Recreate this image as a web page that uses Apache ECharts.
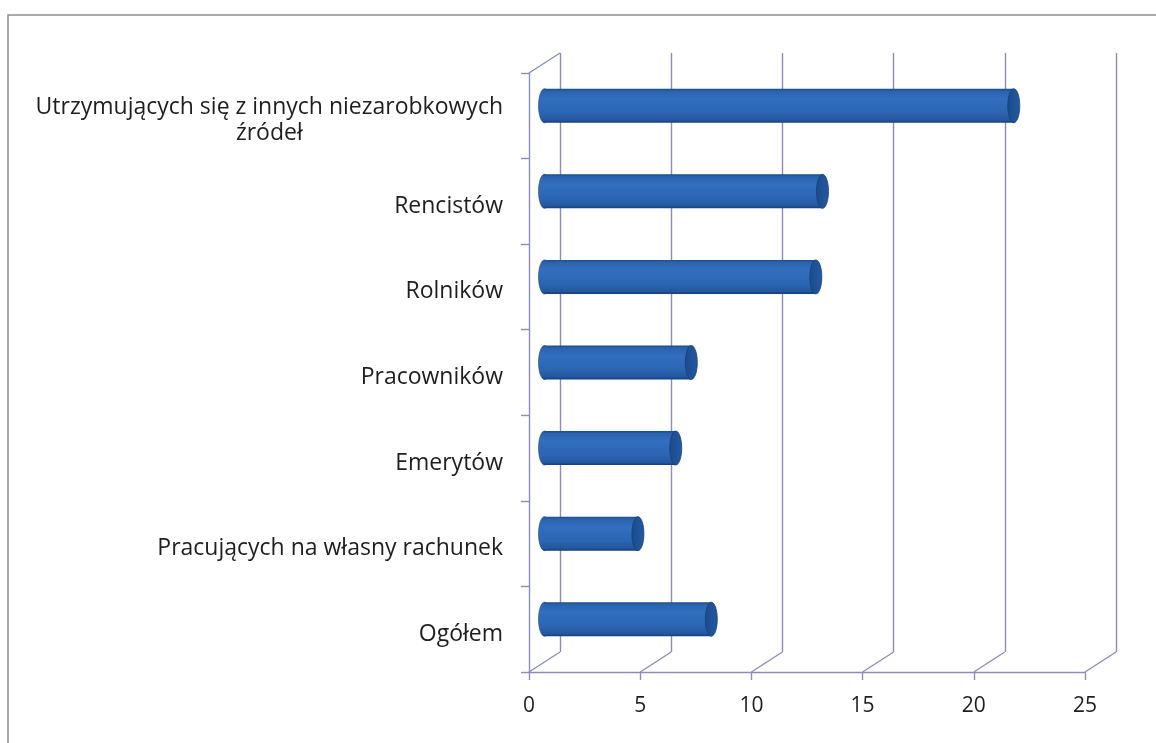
<!DOCTYPE html>
<html><head><meta charset="utf-8">
<script src="https://cdn.jsdelivr.net/npm/echarts@6/dist/echarts.min.js"></script>
<style>html,body{margin:0;padding:0;background:#fff}#c{width:1156px;height:743px}</style>
</head><body><div id="c"></div>
<script>
const categories = ['Utrzymujących się z innych niezarobkowych\nźródeł', 'Rencistów', 'Rolników', 'Pracowników', 'Emerytów', 'Pracujących na własny rachunek', 'Ogółem'];
const values = [21.1, 12.5, 12.2, 6.6, 5.9, 4.2, 7.5];
const xTicks = [0, 5, 10, 15, 20, 25];

const LINE = '#8a8eb6';
const FONT = 'Open Sans';
const DEPTH_X = 31, DEPTH_Y = -20;

const chart = echarts.init(document.getElementById('c'), null, {renderer: 'canvas'});

function bodyGrad() {
  return new echarts.graphic.LinearGradient(0, 0, 0, 1, [
    {offset: 0, color: '#1a4a8c'},
    {offset: 0.07, color: '#2b62ad'},
    {offset: 0.3, color: '#326fbf'},
    {offset: 0.7, color: '#2c65b2'},
    {offset: 0.92, color: '#2358a0'},
    {offset: 1, color: '#163d78'}
  ]);
}
function capGrad() {
  return new echarts.graphic.LinearGradient(0, 0, 1, 0, [
    {offset: 0, color: '#1a4b8c'},
    {offset: 1, color: '#2459a0'}
  ]);
}

function renderBar(params, api) {
  const v = api.value(0), idx = api.value(1);
  const p0 = api.coord([0, idx]);
  const p1 = api.coord([v, idx]);
  const dx = DEPTH_X / 2, dy = DEPTH_Y / 2;
  const h = 34, rx = 6;
  const x0 = p0[0] + dx, x1 = p1[0] + dx, cy = p0[1] + dy;
  return {
    type: 'group',
    children: [
      {type: 'ellipse', shape: {cx: x0, cy: cy, rx: rx, ry: h / 2}, style: {fill: bodyGrad(), stroke: '#1b4683', lineWidth: 0.6}},
      {type: 'rect', shape: {x: x0, y: cy - h / 2, width: x1 - x0, height: h}, style: {fill: bodyGrad()}},
      {type: 'ellipse', shape: {cx: x1, cy: cy, rx: rx, ry: h / 2}, style: {fill: capGrad(), stroke: '#174079', lineWidth: 0.8}}
    ]
  };
}

function renderFrame(params, api) {
  const cs = params.coordSys;
  const x = api.coord([api.value(0), 0])[0];
  const bottom = cs.y + cs.height;
  const st = {stroke: LINE, lineWidth: 1.4};
  const children = [{type: 'line', shape: {x1: x, y1: bottom, x2: x + DEPTH_X, y2: bottom + DEPTH_Y}, style: st}];
  if (params.dataIndex === 0) {
    children.push({type: 'line', shape: {x1: cs.x, y1: cs.y, x2: cs.x + DEPTH_X, y2: cs.y + DEPTH_Y}, style: st});
  }
  return {type: 'group', children: children};
}

const labelRich = {
  a: {fontFamily: FONT, fontSize: 23, color: '#1e1e1e', lineHeight: 26},
  c: {fontFamily: FONT, fontSize: 23, color: '#1e1e1e', lineHeight: 26, align: 'center'}
};

const option = {
  backgroundColor: '#fff',
  animation: false,
  graphic: [{
    type: 'rect', z: -10, silent: true,
    shape: {x: 8, y: 15, width: 1250, height: 900},
    style: {fill: 'none', stroke: '#8f8f8f', lineWidth: 1.5}
  }],
  grid: [
    {left: 529, right: 71, top: 73, bottom: 71, outerBoundsMode: 'none'},
    {left: 529 + DEPTH_X, right: 71 - DEPTH_X, top: 73 + DEPTH_Y, bottom: 71 - DEPTH_Y, outerBoundsMode: 'none'}
  ],
  xAxis: [
    {
      gridIndex: 0, type: 'value', min: 0, max: 25, interval: 5,
      axisLine: {show: true, lineStyle: {color: LINE, width: 1.4}},
      axisTick: {show: true, length: 8, lineStyle: {color: LINE, width: 1.4}},
      axisLabel: {show: true, margin: 24, fontFamily: FONT, fontSize: 21, color: '#1e1e1e',
        formatter: function (v) { return xTicks.indexOf(v) >= 0 ? String(v) : ''; }},
      splitLine: {show: false}
    },
    {
      gridIndex: 1, type: 'value', min: 0, max: 25, interval: 5,
      axisLine: {show: false}, axisTick: {show: false}, axisLabel: {show: false},
      splitLine: {show: true, lineStyle: {color: LINE, width: 1.4}}
    }
  ],
  yAxis: [
    {
      gridIndex: 0, type: 'category', data: categories, inverse: true,
      axisLine: {show: true, lineStyle: {color: LINE, width: 1.4}},
      axisTick: {show: true, length: 8, lineStyle: {color: LINE, width: 1.4}},
      axisLabel: {
        margin: 26, padding: [10, 0, 0, 0],
        formatter: function (val) {
          const parts = val.split('\n');
          if (parts.length > 1) return '{a|' + parts[0] + '}\n{c|' + parts[1] + '}';
          return '{a|' + val + '}';
        },
        rich: labelRich
      },
      splitLine: {show: false}
    },
    {
      gridIndex: 1, type: 'value', min: 0, max: 1, show: false,
      splitLine: {show: false}
    }
  ],
  series: [
    {
      type: 'custom', name: 'frame', xAxisIndex: 0, yAxisIndex: 0, z: 1, silent: true,
      encode: {x: 0, y: 1},
      data: xTicks.map(function (t) { return [t, 0]; }),
      renderItem: renderFrame, clip: false
    },
    {
      type: 'custom', name: 'values', xAxisIndex: 0, yAxisIndex: 0, z: 5,
      encode: {x: 0, y: 1},
      data: values.map(function (v, i) { return [v, i]; }),
      renderItem: renderBar, clip: false
    }
  ]
};
chart.setOption(option);
</script>
</body></html>
